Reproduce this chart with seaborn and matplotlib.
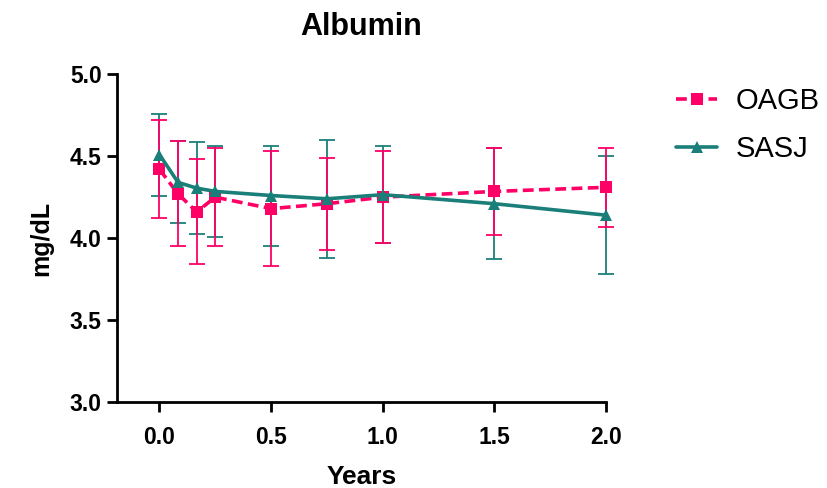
import numpy as np
import pandas as pd
import seaborn as sns
import matplotlib.pyplot as plt

years = [0.0, 1/12, 2/12, 0.25, 0.5, 0.75, 1.0, 1.5, 2.0]

oagb_mean = [4.42, 4.27, 4.16, 4.25, 4.18, 4.21, 4.25, 4.285, 4.31]
oagb_sd = [0.30, 0.32, 0.32, 0.30, 0.35, 0.28, 0.28, 0.265, 0.24]

sasj_mean = [4.51, 4.34, 4.305, 4.285, 4.26, 4.24, 4.265, 4.21, 4.14]
sasj_sd = [0.25, 0.25, 0.28, 0.275, 0.305, 0.36, 0.295, 0.34, 0.36]

groups = ["OAGB", "SASJ"]
colors = {"OAGB": "#FF0066", "SASJ": "#1B7F79"}

df = pd.concat([
    pd.DataFrame({"Years": years, "value": sasj_mean, "sd": sasj_sd, "group": "SASJ"}),
    pd.DataFrame({"Years": years, "value": oagb_mean, "sd": oagb_sd, "group": "OAGB"}),
])

sns.set_style("ticks")
plt.rcParams["font.family"] = ["Liberation Sans", "DejaVu Sans"]
plt.rcParams["text.color"] = "black"
plt.rcParams["axes.labelcolor"] = "black"
plt.rcParams["xtick.color"] = "black"
plt.rcParams["ytick.color"] = "black"

fig = plt.figure(figsize=(8.28, 4.88), dpi=100)
ax = fig.add_axes([0.1413, 0.176, 0.5907, 0.672])

# error bars first, so the lines and markers sit on top
for g in ["SASJ", "OAGB"]:
    d = df[df["group"] == g]
    eb = ax.errorbar(d["Years"], d["value"], yerr=d["sd"], fmt="none",
                     ecolor=colors[g], elinewidth=1.3, capsize=6, capthick=1.3, zorder=2)
    for art in eb.lines[1] + eb.lines[2]:
        art.set_clip_on(False)

sns.lineplot(data=df, x="Years", y="value", hue="group", style="group",
             hue_order=groups, style_order=groups, palette=colors,
             markers={"OAGB": "s", "SASJ": "^"},
             dashes={"OAGB": (3, 1.5), "SASJ": ""},
             markersize=9, markeredgewidth=0, linewidth=2.6,
             errorbar=None, ax=ax, zorder=3)
for ln in ax.lines:
    ln.set_clip_on(False)

ax.set_xlim(-0.19, 2.0)
ax.set_ylim(3.0, 5.0)
ax.set_xticks([0.0, 0.5, 1.0, 1.5, 2.0])
ax.set_yticks([3.0, 3.5, 4.0, 4.5, 5.0])
ax.xaxis.set_major_formatter(plt.FormatStrFormatter("%.1f"))
ax.yaxis.set_major_formatter(plt.FormatStrFormatter("%.1f"))
for lbl in ax.get_xticklabels() + ax.get_yticklabels():
    lbl.set_fontweight("bold")
    lbl.set_fontsize(16.5)
ax.tick_params(width=2, length=7, color="black")
ax.tick_params(axis="x", pad=10)
ax.tick_params(axis="y", pad=4)
sns.despine(ax=ax)
for s in ["left", "bottom"]:
    ax.spines[s].set_linewidth(2)
    ax.spines[s].set_color("black")

ax.set_xlabel("Years", fontsize=19, fontweight="bold", labelpad=12)
ax.set_ylabel("mg/dL", fontsize=18, fontweight="bold", labelpad=12)
ax.set_title("Albumin", fontsize=22, fontweight="bold", pad=28)

leg = ax.legend(loc="upper left", bbox_to_anchor=(1.09, 1.04), frameon=False,
                fontsize=21, handlelength=1.4, labelspacing=0.68, handletextpad=0.62,
                title=None)

fig.savefig("out.png", dpi=100)
